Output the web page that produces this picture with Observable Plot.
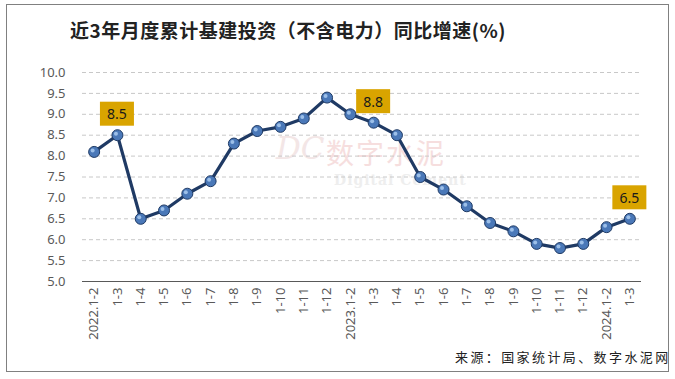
<!DOCTYPE html>
<html><head><meta charset="utf-8">
<script src="https://cdn.jsdelivr.net/npm/d3@7"></script>
<script src="https://cdn.jsdelivr.net/npm/@observablehq/plot@0.6"></script>
<style>
html,body{margin:0;padding:0;background:#fff;}
#wrap{position:relative;width:675px;height:379px;overflow:hidden;font-family:"Noto Sans CJK SC","Noto Sans",sans-serif;}
#frame{position:absolute;left:6px;top:4px;width:663px;height:368px;border:1px solid #808080;box-sizing:border-box;z-index:3;pointer-events:none;}
#title{position:absolute;left:70px;top:16px;font-size:19px;font-weight:bold;color:#222;z-index:2;letter-spacing:0.5px;white-space:nowrap;}
#source{position:absolute;left:455px;top:347px;font-size:13px;color:#222;z-index:2;font-family:"Noto Sans CJK SC",serif;letter-spacing:2.4px;white-space:nowrap;}
#wm{position:absolute;left:276px;top:130px;z-index:0;pointer-events:none;}
#wm .dc{position:absolute;left:0;top:0px;font-family:"DejaVu Serif",serif;font-style:italic;font-size:31px;color:#f3e6e6;}
#wm .cn{position:absolute;left:50px;top:2px;font-family:"Noto Sans CJK SC",serif;font-size:28px;color:#f6dede;letter-spacing:2px;white-space:nowrap;}
#wm .en{position:absolute;left:58px;top:42px;font-family:"DejaVu Serif",serif;font-weight:bold;font-size:14px;color:#eeeeee;letter-spacing:1px;white-space:nowrap;}
#chart{position:absolute;left:0;top:0;z-index:1;}
#chart svg{background:transparent !important;}
</style>
</head><body>
<div id="wrap">
  <div id="frame"></div>
  <div id="wm"><span class="dc">DC</span><span class="cn">数字水泥</span><span class="en">Digital Cement</span></div>
  <div id="title">近3年月度累计基建投资（不含电力）同比增速(%)</div>
  <div id="chart"></div>
  <div id="source">来源：国家统计局、数字水泥网</div>
</div>
<script>
const periods = ["2022.1-2","1-3","1-4","1-5","1-6","1-7","1-8","1-9","1-10","1-11","1-12",
  "2023.1-2","1-3","1-4","1-5","1-6","1-7","1-8","1-9","1-10","1-11","1-12",
  "2024.1-2","1-3"];
const growth = [8.1,8.5,6.5,6.7,7.1,7.4,8.3,8.6,8.7,8.9,9.4,
  9.0,8.8,8.5,7.5,7.2,6.8,6.4,6.2,5.9,5.8,5.9,
  6.3,6.5];
const labelIdx = [1,12,23];
const yTicks = [5.0,5.5,6.0,6.5,7.0,7.5,8.0,8.5,9.0,9.5,10.0];

const keys = periods.map((p,i)=>i);
const data = keys.map(i=>({k:i, label:periods[i], v:growth[i]}));
const ann = labelIdx.map(i=>data[i]);

const plot = Plot.plot({
  width:675, height:379,
  marginTop:72, marginBottom:98, marginLeft:82, marginRight:34,
  style:{fontFamily:"Noto Sans, sans-serif", fontSize:"12px", color:"#595959", background:"transparent"},
  x:{type:"band", domain:keys, padding:0, round:false, label:null},
  y:{domain:[5,10], label:null},
  marks:[
    Plot.gridY(yTicks.filter(d=>d>5), {stroke:"#c8c8c8", strokeOpacity:1, strokeDasharray:"4,3"}),
    Plot.ruleY([5], {stroke:"#595959", strokeWidth:1.2}),
    Plot.axisX({tickFormat:i=>periods[i], tickRotate:-90, tickSize:0, tickPadding:6, fill:"#595959", fontSize:13}),
    Plot.axisY({ticks:yTicks, tickFormat:d=>d.toFixed(1), tickSize:0, tickPadding:17, fill:"#595959", fontSize:13}),
    Plot.lineY(data, {x:"k", y:"v", stroke:"#1f3a64", strokeWidth:3.2}),
    Plot.dot(data, {x:"k", y:"v", r:5.5, fill:"#4a78b8", stroke:"#1f3a64", strokeWidth:1}),
    Plot.dot(data, {x:"k", y:"v", r:2, fill:"#9cbfe8", dx:-1.5, dy:-1.5, stroke:"none"})
  ]
});
document.getElementById("chart").appendChild(plot);

// annotation boxes positioned through the plot's own scales
const xs = plot.scale("x"), ys = plot.scale("y");
const svg = d3.select(plot);
const g = svg.append("g");
ann.forEach(d=>{
  const cx = xs.apply(d.k) + xs.bandwidth/2;
  const cy = ys.apply(d.v) - 21;
  g.append("rect").attr("x",cx-17).attr("y",cy-12).attr("width",34).attr("height",24).attr("fill","#d9a400");
  g.append("text").attr("x",cx).attr("y",cy).attr("text-anchor","middle").attr("dominant-baseline","central")
    .attr("font-size",14).attr("font-family","Noto Sans, sans-serif").attr("fill","#1a1a1a").text(d.v.toFixed(1));
});
</script>
</body></html>
